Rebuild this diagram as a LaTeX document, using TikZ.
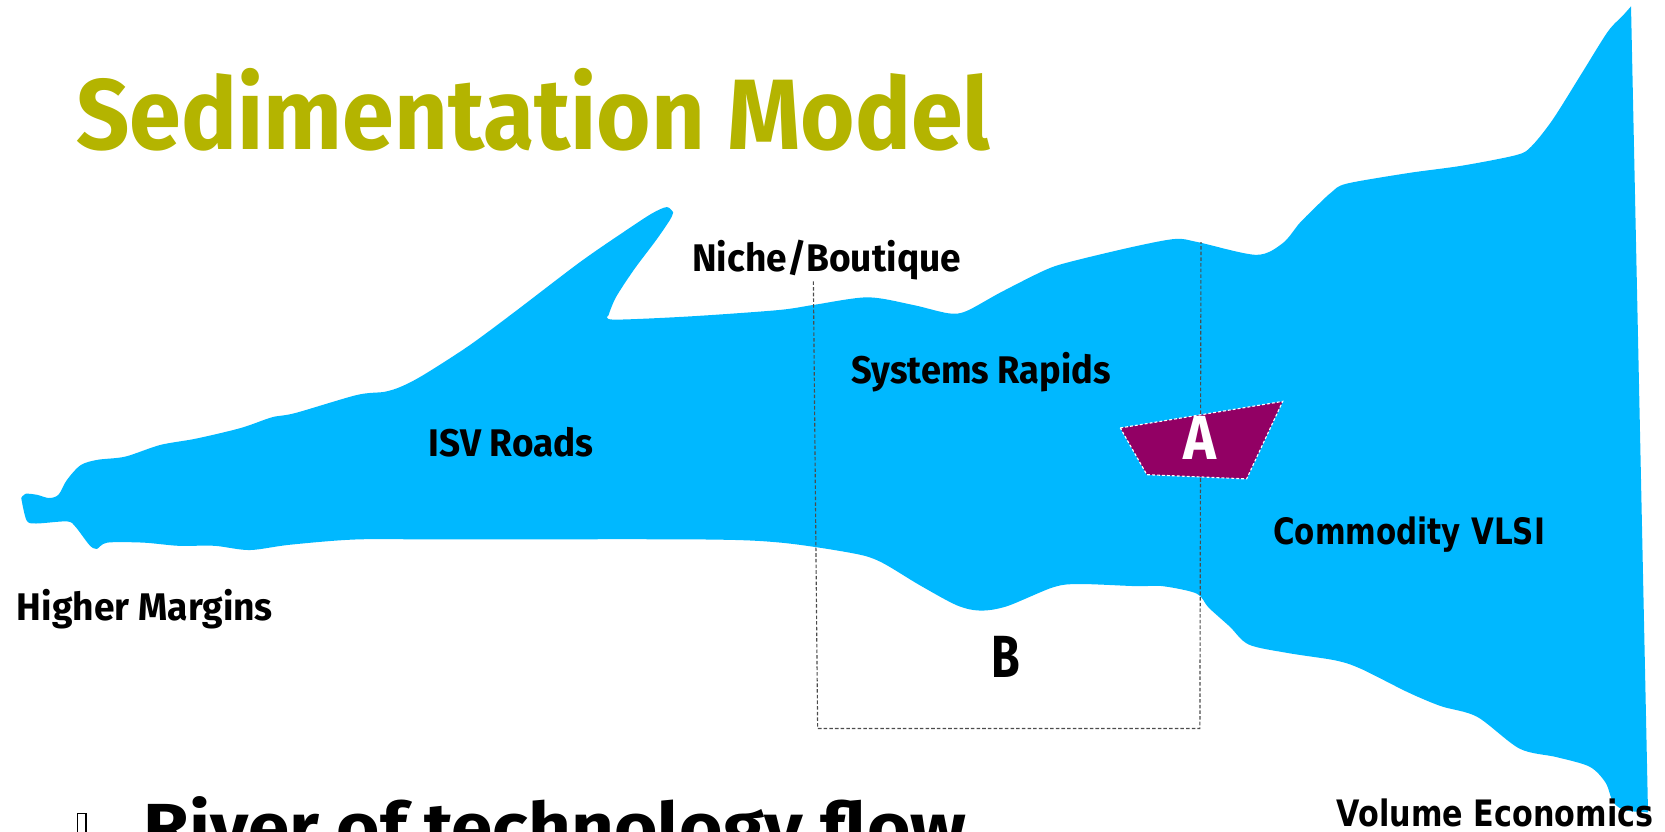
\documentclass[tikz,border=0pt]{standalone}
\usepackage{fontspec}
\setmainfont{Fira Sans}
\newfontfamily\dvsfont{DejaVu Sans}
\usepackage{graphicx}
\definecolor{riverblue}{RGB}{0,184,255}
\definecolor{boatpurple}{RGB}{146,0,100}
\definecolor{titleolive}{RGB}{180,180,0}
\newlength\pxu
\setlength\pxu{0.75pt}
\newcommand\fitw[2]{\resizebox{#1\pxu}{\height}{#2}}
\tikzset{
  lbl/.style={inner sep=0pt, outer sep=0pt, anchor=base west, text=black},
  boxline/.style={draw=black!70, line width=0.8pt, dash pattern=on 2.5pt off 1.5pt},
  boatshape/.style={fill=boatpurple, draw=white, line width=0.8pt, dash pattern=on 2pt off 1.5pt},
  rivershape/.style={fill=riverblue},
}
\begin{document}
\begin{tikzpicture}[x=0.75pt, y=-0.75pt]
\useasboundingbox (0,0) rectangle (1568,783);
\clip (0,0) rectangle (1568,783);

% river
\fill[rivershape]
  plot[smooth, tension=0.5] coordinates {(20,469) (24,465) (35,466) (46,469) (55,466) (63,452) (76,438) (92,433) (118,430) (151,419) (185,413) (227,403) (256,393) (278,389) (336,372) (362,369) (378,364) (399,353) (441,326) (483,295) (546,247) (588,218) (614,201) (628,195) (634,200)}
  -- plot[smooth, tension=0.5] coordinates {(634,200) (631,207) (618,226) (597,254) (580,280) (573,297)}
  -- plot[smooth, tension=0.5] coordinates {(573,297) (578,301) (649,298) (733,292) (767,287) (817,280) (859,287) (893,295) (910,293) (943,275) (985,254) (1010,246) (1069,232) (1107,225) (1128,228) (1183,240) (1208,229) (1224,210) (1241,193) (1254,181) (1268,173) (1326,163) (1377,156) (1428,146) (1442,138) (1462,113) (1489,70) (1514,30) (1528,15) (1536,6)}
  -- plot[smooth, tension=0.5] coordinates {(1552,765) (1530,763) (1519,755) (1512,737) (1497,722) (1466,713) (1431,705) (1391,675) (1357,665) (1326,652) (1282,630) (1258,622) (1213,615) (1176,607) (1158,590) (1138,572) (1127,559) (1095,552) (1070,552) (1017,550) (992,553) (948,571) (923,575) (901,570) (866,551) (829,529) (803,521) (735,511) (659,508) (420,508) (336,508) (273,513) (235,518) (202,514) (168,514) (135,511) (101,511) (91,517) (84,513) (71,496) (63,491) (34,493) (25,490) (20,469)}
  -- cycle;

% dashed box B
\coordinate (btl) at (766,265);
\coordinate (bbl) at (770,686);
\coordinate (bbr) at (1130,686);
\coordinate (btr) at (1131,228);
\draw[boxline] (btl) -- (bbl) -- (bbr) -- (btr);

% boat A
\coordinate (a1) at (1055,403);
\coordinate (a2) at (1208,378);
\coordinate (a3) at (1174,451);
\coordinate (a4) at (1080,447);
\draw[boatshape] (a1) -- (a2) -- (a3) -- (a4) -- cycle;

% texts
\node[lbl, text=titleolive] (title) at (72,141) {\fitw{861}{\fontsize{70.7}{80}\selectfont\bfseries Sedimentation Model}};
\node[lbl] (niche) at (652,256) {\fitw{253}{\fontsize{27.2}{30}\selectfont\bfseries Niche/Boutique}};
\node[lbl] (rapids) at (802,361) {\fitw{244}{\fontsize{27.2}{30}\selectfont\bfseries Systems Rapids}};
\node[lbl] (isv) at (404,430) {\fitw{155}{\fontsize{27.2}{30}\selectfont\bfseries ISV Roads}};
\node[lbl] (margins) at (16,584) {\fitw{241}{\fontsize{27.2}{30}\selectfont\bfseries Higher Margins}};
\node[lbl] (vlsi) at (1199,513) {\fitw{256}{\dvsfont\fontsize{25.7}{30}\selectfont\bfseries Commodity VLSI}};
\node[lbl] (volume) at (1259,778) {\fitw{298}{\dvsfont\fontsize{25.7}{30}\selectfont\bfseries Volume Economics}};
\node[lbl] (blabel) at (934,638) {\fitw{27}{\fontsize{42}{46}\selectfont\bfseries B}};
\node[lbl, text=white] (alabel) at (1115,433) {\fitw{31}{\fontsize{44}{48}\selectfont\bfseries A}};
\node[lbl] (river) at (135,801) {\fitw{775}{\fontsize{47}{52}\selectfont\bfseries River of technology flow}};
\draw[line width=0.8pt] (73,766) rectangle (81,800);
\end{tikzpicture}
\end{document}
